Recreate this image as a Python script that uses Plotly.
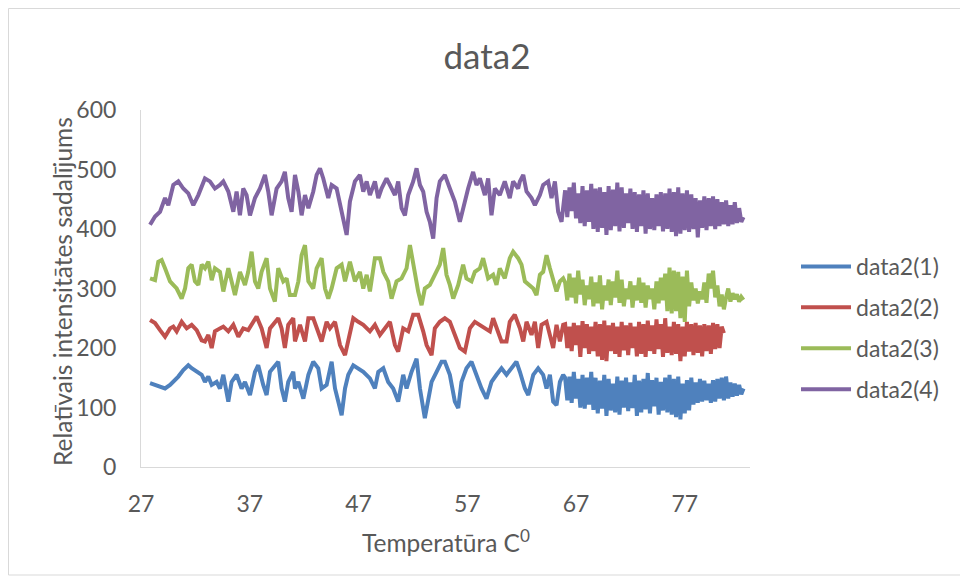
import plotly.graph_objects as go

# ---- data ----
# left (sparser) part of each series
temp_4 = [27.83, 28.29, 28.75, 29.21, 29.51, 29.97, 30.43, 30.89, 31.35, 31.81, 32.27, 32.88, 33.34, 33.80, 34.26,
          34.57, 35.03, 35.49, 35.79, 36.10, 36.40, 36.71, 37.02, 37.48, 37.94, 38.40, 38.70, 39.01, 39.47, 39.93, 40.23, 40.54, 40.85,
          41.16, 41.47, 41.77, 42.08, 42.39, 42.84, 43.15, 43.46, 43.76, 44.22, 44.53, 44.99, 45.30, 45.60, 45.91, 46.21, 46.67, 47.13, 47.44, 47.75,
          48.05, 48.51, 48.82, 49.12, 49.58, 49.89, 50.35, 50.65, 50.96, 51.27, 51.57, 52.03, 52.34, 52.65, 52.95, 53.26, 53.56, 53.87, 54.18, 54.48,
          54.94, 55.40, 55.86, 56.32, 56.62, 57.08, 57.54, 57.85, 58.16, 58.62, 58.92, 59.23, 59.54, 59.99, 60.45, 60.91, 61.22, 61.68,
          61.84, 62.15, 62.45, 62.91, 63.22, 63.68, 63.98, 64.44, 64.75, 65.06, 65.36, 65.67]
data2_4 = [407, 421, 429, 452, 440, 474, 480, 468, 460, 440, 457, 485, 480, 468, 474,
           480, 463, 429, 463, 423, 468, 457, 423, 452, 468, 491, 463, 423, 468, 480, 496, 452, 429,
           491, 463, 423, 457, 435, 463, 491, 502, 485, 452, 474, 468, 440, 412, 390, 446, 480, 491, 463, 480,
           457, 480, 452, 468, 485, 474, 457, 480, 435, 423, 457, 480, 502, 474, 463, 429, 412, 384, 452, 480,
           491, 468, 446, 412, 435, 468, 496, 474, 485, 457, 485, 423, 468, 457, 480, 452, 480, 468,
           480, 491, 463, 452, 440, 457, 474, 480, 452, 480, 429, 412]

temp_3 = [27.83, 28.29, 28.59, 28.90, 29.21, 29.67, 29.97, 30.28, 30.74, 31.05, 31.35, 31.66, 31.96, 32.27, 32.58, 32.88, 33.19, 33.50, 33.80, 34.26,
          34.57, 35.03, 35.33, 35.64, 36.10, 36.56, 36.86, 37.17, 37.48, 37.78, 38.09, 38.55, 38.86, 39.31, 39.62, 40.08, 40.39, 40.69,
          41.16, 41.47, 41.77, 42.08, 42.39, 42.84, 43.15, 43.61, 43.92, 44.22, 44.53, 44.99, 45.45, 45.76, 46.21, 46.67, 47.13, 47.44, 47.75,
          48.05, 48.51, 48.97, 49.28, 49.73, 50.04, 50.50, 50.96, 51.42, 51.73, 52.03, 52.49, 52.80, 53.10, 53.56, 54.02, 54.48,
          54.79, 55.09, 55.40, 55.71, 56.17, 56.62, 56.93, 57.39, 57.70, 58.16, 58.46, 58.92, 59.38, 59.69, 59.99, 60.45, 60.91, 61.22, 61.68,
          61.99, 62.30, 62.76, 63.07, 63.37, 63.68, 63.98, 64.29, 64.60, 64.90, 65.21, 65.52, 65.82]
data2_3 = [317, 314, 345, 348, 334, 312, 306, 300, 283, 300, 334, 340, 312, 306, 340, 334, 345, 314, 334, 328,
           295, 334, 312, 289, 328, 306, 328, 362, 312, 300, 328, 351, 300, 278, 334, 312, 317, 289,
           289, 312, 356, 373, 312, 300, 334, 351, 300, 283, 300, 334, 340, 312, 345, 312, 328, 300, 323,
           295, 351, 351, 328, 312, 283, 312, 317, 334, 373, 340, 295, 272, 300, 306, 323, 340,
           368, 323, 306, 283, 306, 340, 317, 312, 328, 334, 351, 317, 323, 306, 334, 317, 351, 362, 351,
           340, 312, 306, 300, 289, 323, 328, 356, 334, 312, 295, 312, 317]

temp_2 = [27.83, 28.29, 28.75, 29.21, 29.67, 29.97, 30.28, 30.74, 31.20, 31.66, 32.12, 32.58, 32.88, 33.19, 33.50, 33.80, 34.26,
          34.57, 35.03, 35.49, 35.95, 36.40, 36.86, 37.32, 37.63, 38.09, 38.55, 38.86, 39.31, 39.62, 39.93, 40.23, 40.54, 41.00,
          41.16, 41.62, 42.08, 42.39, 42.84, 43.15, 43.61, 44.07, 44.38, 44.84, 45.30, 45.76, 46.21, 46.52, 46.98, 47.44,
          48.05, 48.51, 48.97, 49.43, 49.89, 50.35, 50.65, 51.11, 51.57, 52.03, 52.49, 52.95, 53.26, 53.72, 54.02, 54.48,
          54.94, 55.40, 55.86, 56.32, 56.78, 57.24, 57.70, 58.16, 58.62, 59.08, 59.38, 59.69, 60.15, 60.61, 60.91, 61.37,
          61.84, 62.15, 62.45, 62.91, 63.22, 63.52, 63.83, 64.29, 64.60, 64.90, 65.21, 65.52, 65.82]
data2_2 = [247, 242, 230, 219, 233, 236, 228, 244, 233, 239, 230, 213, 211, 222, 200, 228, 233,
           236, 228, 239, 219, 233, 230, 244, 253, 233, 200, 233, 244, 250, 233, 200, 239, 250,
           211, 239, 211, 250, 250, 233, 211, 244, 233, 244, 205, 188, 222, 250, 244, 239,
           228, 239, 222, 233, 244, 205, 194, 233, 228, 256, 256, 228, 205, 188, 233, 244,
           250, 244, 222, 200, 194, 233, 244, 239, 233, 228, 250, 233, 211, 211, 244, 256,
           233, 211, 244, 222, 244, 200, 239, 244, 222, 200, 239, 211, 239]

temp_1 = [27.83, 28.29, 28.75, 29.21, 29.67, 29.97, 30.43, 30.89, 31.35, 31.66, 32.12, 32.58, 32.88, 33.19, 33.50, 33.95, 34.26,
          34.57, 35.03, 35.33, 35.79, 36.25, 36.56, 37.02, 37.48, 37.78, 38.24, 38.55, 38.86, 39.31, 39.62, 39.93, 40.23, 40.54, 41.00,
          41.16, 41.47, 41.93, 42.39, 42.84, 43.30, 43.61, 44.07, 44.53, 44.84, 45.14, 45.45, 45.76, 46.06, 46.52, 46.98, 47.44,
          48.05, 48.51, 48.82, 49.28, 49.73, 50.19, 50.65, 51.11, 51.42, 51.88, 52.34, 52.65, 53.10, 53.41, 53.72, 54.18, 54.64,
          54.94, 55.40, 55.86, 56.17, 56.47, 56.93, 57.39, 57.85, 58.31, 58.77, 59.23, 59.69, 60.15, 60.61, 61.07, 61.52,
          61.84, 62.30, 62.61, 63.07, 63.52, 63.98, 64.29, 64.60, 64.90, 65.21, 65.52, 65.82]
data2_1 = [141, 138, 135, 132, 138, 143, 152, 163, 171, 166, 160, 155, 143, 152, 138, 143, 132,
           155, 110, 143, 155, 132, 143, 121, 160, 171, 138, 121, 160, 171, 177, 132, 110, 143, 160,
           132, 143, 115, 155, 177, 166, 132, 138, 177, 132, 110, 87, 132, 155, 171, 166, 160,
           149, 132, 160, 166, 143, 132, 110, 155, 132, 160, 182, 132, 82, 110, 143, 160, 177,
           177, 155, 110, 99, 143, 166, 177, 155, 132, 115, 143, 155, 166, 155, 166, 177,
           160, 132, 121, 155, 166, 155, 132, 155, 110, 104, 143, 155]

# right (dense, fast-oscillating) part of each series
temp_dense = [66.0, 66.2, 66.4, 66.6, 66.8, 67.0, 67.2, 67.4, 67.6, 67.8,
              68.0, 68.2, 68.4, 68.6, 68.8, 69.0, 69.2, 69.4, 69.6, 69.8,
              70.0, 70.2, 70.4, 70.6, 70.8, 71.0, 71.2, 71.4, 71.6, 71.8,
              72.0, 72.2, 72.4, 72.6, 72.8, 73.0, 73.2, 73.4, 73.6, 73.8,
              74.0, 74.2, 74.4, 74.6, 74.8, 75.0, 75.2, 75.4, 75.6, 75.8,
              76.0, 76.2, 76.4, 76.6, 76.8, 77.0, 77.2, 77.4, 77.6, 77.8,
              78.0, 78.2, 78.4, 78.6, 78.8, 79.0, 79.2, 79.4, 79.6, 79.8,
              80.0, 80.2, 80.4, 80.6, 80.8, 81.0, 81.2, 81.4, 81.6, 81.8,
              82.0, 82.2, 82.4]
dense_1 = [150, 112, 152, 108, 160, 115, 148, 100, 155, 98,
           150, 105, 160, 96, 150, 90, 145, 98, 155, 86,
           148, 95, 140, 92, 152, 88, 145, 100, 150, 94,
           142, 99, 155, 86, 145, 92, 148, 97, 158, 90,
           146, 102, 150, 88, 143, 95, 150, 92, 155, 88,
           148, 84, 152, 80, 140, 90, 146, 95, 150, 105,
           142, 108, 148, 110, 145, 112, 140, 108, 146, 110,
           148, 115, 150, 112, 152, 115, 142, 118, 140, 120,
           138, 122, 132]
dense_2 = [240, 200, 236, 195, 242, 205, 238, 185, 245, 200,
           240, 190, 236, 195, 244, 186, 240, 180, 246, 178,
           238, 195, 242, 190, 236, 185, 244, 196, 238, 188,
           242, 200, 236, 186, 244, 190, 240, 185, 246, 195,
           238, 190, 248, 198, 240, 185, 250, 192, 236, 188,
           244, 190, 240, 178, 236, 186, 244, 194, 240, 188,
           242, 192, 238, 186, 240, 195, 238, 190, 242, 198,
           240, 200, 236, 225]
dense_3 = [310, 280, 325, 285, 318, 275, 330, 290, 315, 272,
           305, 282, 320, 270, 310, 275, 322, 265, 305, 280,
           315, 272, 312, 285, 330, 276, 315, 270, 300, 282,
           312, 268, 305, 280, 318, 276, 310, 268, 305, 282,
           300, 265, 312, 275, 318, 280, 325, 262, 335, 258,
           330, 262, 328, 250, 320, 244, 330, 270, 310, 280,
           300, 275, 295, 282, 310, 276, 325, 300, 330, 285,
           305, 270, 290, 265, 285, 300, 278, 292, 282, 290,
           278, 286, 281]
dense_4 = [465, 420, 470, 430, 478, 418, 460, 410, 472, 405,
           465, 412, 476, 400, 468, 395, 470, 402, 462, 390,
           472, 398, 466, 405, 478, 396, 470, 402, 460, 410,
           468, 400, 462, 395, 458, 405, 465, 392, 460, 400,
           452, 398, 458, 405, 462, 396, 460, 400, 468, 395,
           462, 388, 470, 392, 460, 398, 465, 395, 458, 400,
           452, 386, 448, 402, 455, 398, 452, 405, 455, 400,
           450, 405, 445, 408, 448, 405, 440, 408, 445, 410,
           435, 412, 420]

series_names = ["data2(1)", "data2(2)", "data2(3)", "data2(4)"]
x_ticks = [27, 37, 47, 57, 67, 77]
y_ticks = [0, 100, 200, 300, 400, 500, 600]

colors = ["#4F81BD", "#C0504D", "#9BBB59", "#8064A2"]
TXT = "#595959"
FONT = "Lato, 'Open Sans', sans-serif"

fig = go.Figure()
parts = [(temp_1, data2_1, dense_1), (temp_2, data2_2, dense_2),
         (temp_3, data2_3, dense_3), (temp_4, data2_4, dense_4)]
for name, (xs, ys, dys), c in zip(series_names, parts, colors):
    n = min(len(temp_dense), len(dys))
    fig.add_trace(go.Scatter(x=list(xs) + temp_dense[:n], y=list(ys) + dys[:n],
                             mode="lines", name=name, legendgroup=name,
                             line=dict(color=c, width=4)))

# page has an 8px body margin, so figure pixel = screen pixel - 8
W, H = 954, 568
L, R, T, B = 133, 212, 102, 109
pw, ph = W - L - R, H - T - B

def px_x(x):
    return (x - L) / pw

def px_y(y):
    return (H - B - y) / ph

fig.update_layout(
    width=W, height=H,
    margin=dict(l=L, r=R, t=T, b=B),
    paper_bgcolor="white", plot_bgcolor="white",
    font=dict(family=FONT, color=TXT, size=22),
    title=dict(text="data2", x=479 / W, xref="container", y=1 - 49 / H, yref="container",
               xanchor="center", yanchor="middle", font=dict(size=35, color=TXT, family=FONT)),
    showlegend=True,
    legend=dict(x=px_x(788), y=px_y(237), xanchor="left", yanchor="top",
                font=dict(size=23, color=TXT, family=FONT), tracegroupgap=8,
                bgcolor="rgba(0,0,0,0)", itemwidth=50),
    xaxis=dict(range=[27, 83], tickvals=x_ticks, ticktext=[str(v) for v in x_ticks],
               showgrid=False, zeroline=False, showline=True, linecolor="#D9D9D9", linewidth=1,
               ticks="", ticklabelstandoff=16, tickfont=dict(size=23, color=TXT)),
    yaxis=dict(range=[0, 600], tickvals=y_ticks, showgrid=False, zeroline=False,
               showline=True, linecolor="#D9D9D9", linewidth=1,
               ticks="", ticklabelstandoff=19, tickfont=dict(size=23, color=TXT)),
    annotations=[
        dict(text="Relatīvais intensitātes sadalījums", textangle=-90, x=px_x(54), y=px_y(284),
             xref="paper", yref="paper", showarrow=False, xanchor="center", yanchor="middle",
             font=dict(size=24.5, color=TXT, family=FONT)),
        dict(text="Temperatūra C<sup>0</sup>", x=px_x(438), y=px_y(533),
             xref="paper", yref="paper", showarrow=False, xanchor="center", yanchor="middle",
             font=dict(size=24.5, color=TXT, family=FONT)),
    ],
    shapes=[dict(type="rect", xref="paper", yref="paper",
                 x0=px_x(0.5), x1=px_x(953), y0=px_y(567), y1=px_y(0.5),
                 line=dict(color="#D9D9D9", width=1), fillcolor="rgba(0,0,0,0)", layer="below")],
)

fig.write_html("out.html")
